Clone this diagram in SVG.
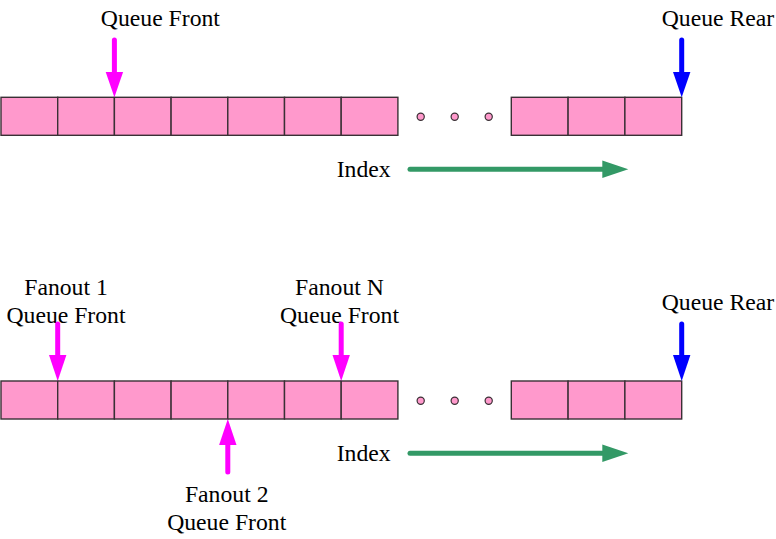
<svg xmlns="http://www.w3.org/2000/svg" width="776" height="539" viewBox="0 0 776 539">
<defs>
<style>
.cell{fill:#FF99CC;stroke:#3a3035;stroke-width:1.4}
.dot{fill:#FF99CC;stroke:#3a3035;stroke-width:1.2}
.t{font-family:"Liberation Serif","Times New Roman",serif;font-size:23.7px;fill:#000}
.mg{stroke:#FF00FF;stroke-width:5;stroke-linecap:round;fill:none}
.mgh{fill:#FF00FF}
.bl{stroke:#0000FF;stroke-width:5;stroke-linecap:round;fill:none}
.blh{fill:#0000FF}
.gr{stroke:#339966;stroke-width:5;stroke-linecap:round;fill:none}
.grh{fill:#339966}
</style>
</defs>
<rect width="776" height="539" fill="#fff"/>
<g id="queue-top">
<rect class="cell" x="1" y="97.3" width="56.7" height="38"/>
<rect class="cell" x="57.7" y="97.3" width="56.7" height="38"/>
<rect class="cell" x="114.4" y="97.3" width="56.7" height="38"/>
<rect class="cell" x="171.1" y="97.3" width="56.7" height="38"/>
<rect class="cell" x="227.8" y="97.3" width="56.7" height="38"/>
<rect class="cell" x="284.5" y="97.3" width="56.7" height="38"/>
<rect class="cell" x="341.2" y="97.3" width="56.7" height="38"/>
<circle class="dot" cx="420.7" cy="116.7" r="3.6"/>
<circle class="dot" cx="454.7" cy="116.7" r="3.6"/>
<circle class="dot" cx="488.7" cy="116.7" r="3.6"/>
<rect class="cell" x="511.3" y="97.3" width="56.8" height="38"/>
<rect class="cell" x="568.1" y="97.3" width="56.8" height="38"/>
<rect class="cell" x="624.9" y="97.3" width="56.8" height="38"/>
</g>
<g id="queue-bottom">
<rect class="cell" x="1" y="381" width="56.7" height="38"/>
<rect class="cell" x="57.7" y="381" width="56.7" height="38"/>
<rect class="cell" x="114.4" y="381" width="56.7" height="38"/>
<rect class="cell" x="171.1" y="381" width="56.7" height="38"/>
<rect class="cell" x="227.8" y="381" width="56.7" height="38"/>
<rect class="cell" x="284.5" y="381" width="56.7" height="38"/>
<rect class="cell" x="341.2" y="381" width="56.7" height="38"/>
<circle class="dot" cx="420.7" cy="400.7" r="3.6"/>
<circle class="dot" cx="454.7" cy="400.7" r="3.6"/>
<circle class="dot" cx="488.7" cy="400.7" r="3.6"/>
<rect class="cell" x="511.3" y="381" width="56.8" height="38"/>
<rect class="cell" x="568.1" y="381" width="56.8" height="38"/>
<rect class="cell" x="624.9" y="381" width="56.8" height="38"/>
</g>
<g id="labels">
<text class="t" x="160.4" y="26" text-anchor="middle">Queue Front</text>
<text class="t" x="661.7" y="26">Queue Rear</text>
<text class="t" x="336.7" y="176.7">Index</text>
<text class="t" x="66" y="295" text-anchor="middle">Fanout 1</text>
<text class="t" x="66" y="323.3" text-anchor="middle">Queue Front</text>
<text class="t" x="339.5" y="295" text-anchor="middle">Fanout N</text>
<text class="t" x="339.5" y="323.3" text-anchor="middle">Queue Front</text>
<text class="t" x="661.7" y="309.5">Queue Rear</text>
<text class="t" x="336.7" y="460.7">Index</text>
<text class="t" x="226.7" y="501.7" text-anchor="middle">Fanout 2</text>
<text class="t" x="226.7" y="530" text-anchor="middle">Queue Front</text>
</g>
<g id="connectors">
<line class="mg" x1="114.4" y1="40" x2="114.4" y2="74"/>
<polygon class="mgh" points="105.7,72 123.1,72 114.4,97.3"/>
<line class="bl" x1="681.7" y1="40" x2="681.7" y2="74"/>
<polygon class="blh" points="673,72 690.4,72 681.7,97.3"/>
<line class="gr" x1="410" y1="169.3" x2="604" y2="169.3"/>
<polygon class="grh" points="602.3,160.6 602.3,178 628.3,169.3"/>
<line class="mg" x1="57.7" y1="324" x2="57.7" y2="357"/>
<polygon class="mgh" points="49,355 66.4,355 57.7,381"/>
<line class="mg" x1="341.2" y1="324" x2="341.2" y2="357"/>
<polygon class="mgh" points="332.5,355 349.9,355 341.2,381"/>
<line class="bl" x1="681.7" y1="324" x2="681.7" y2="357"/>
<polygon class="blh" points="673,355 690.4,355 681.7,381"/>
<line class="mg" x1="227.8" y1="472" x2="227.8" y2="443"/>
<polygon class="mgh" points="219.1,445 236.5,445 227.8,419"/>
<line class="gr" x1="410" y1="453.3" x2="604" y2="453.3"/>
<polygon class="grh" points="602.3,444.6 602.3,462 628.3,453.3"/>
</g>
</svg>
